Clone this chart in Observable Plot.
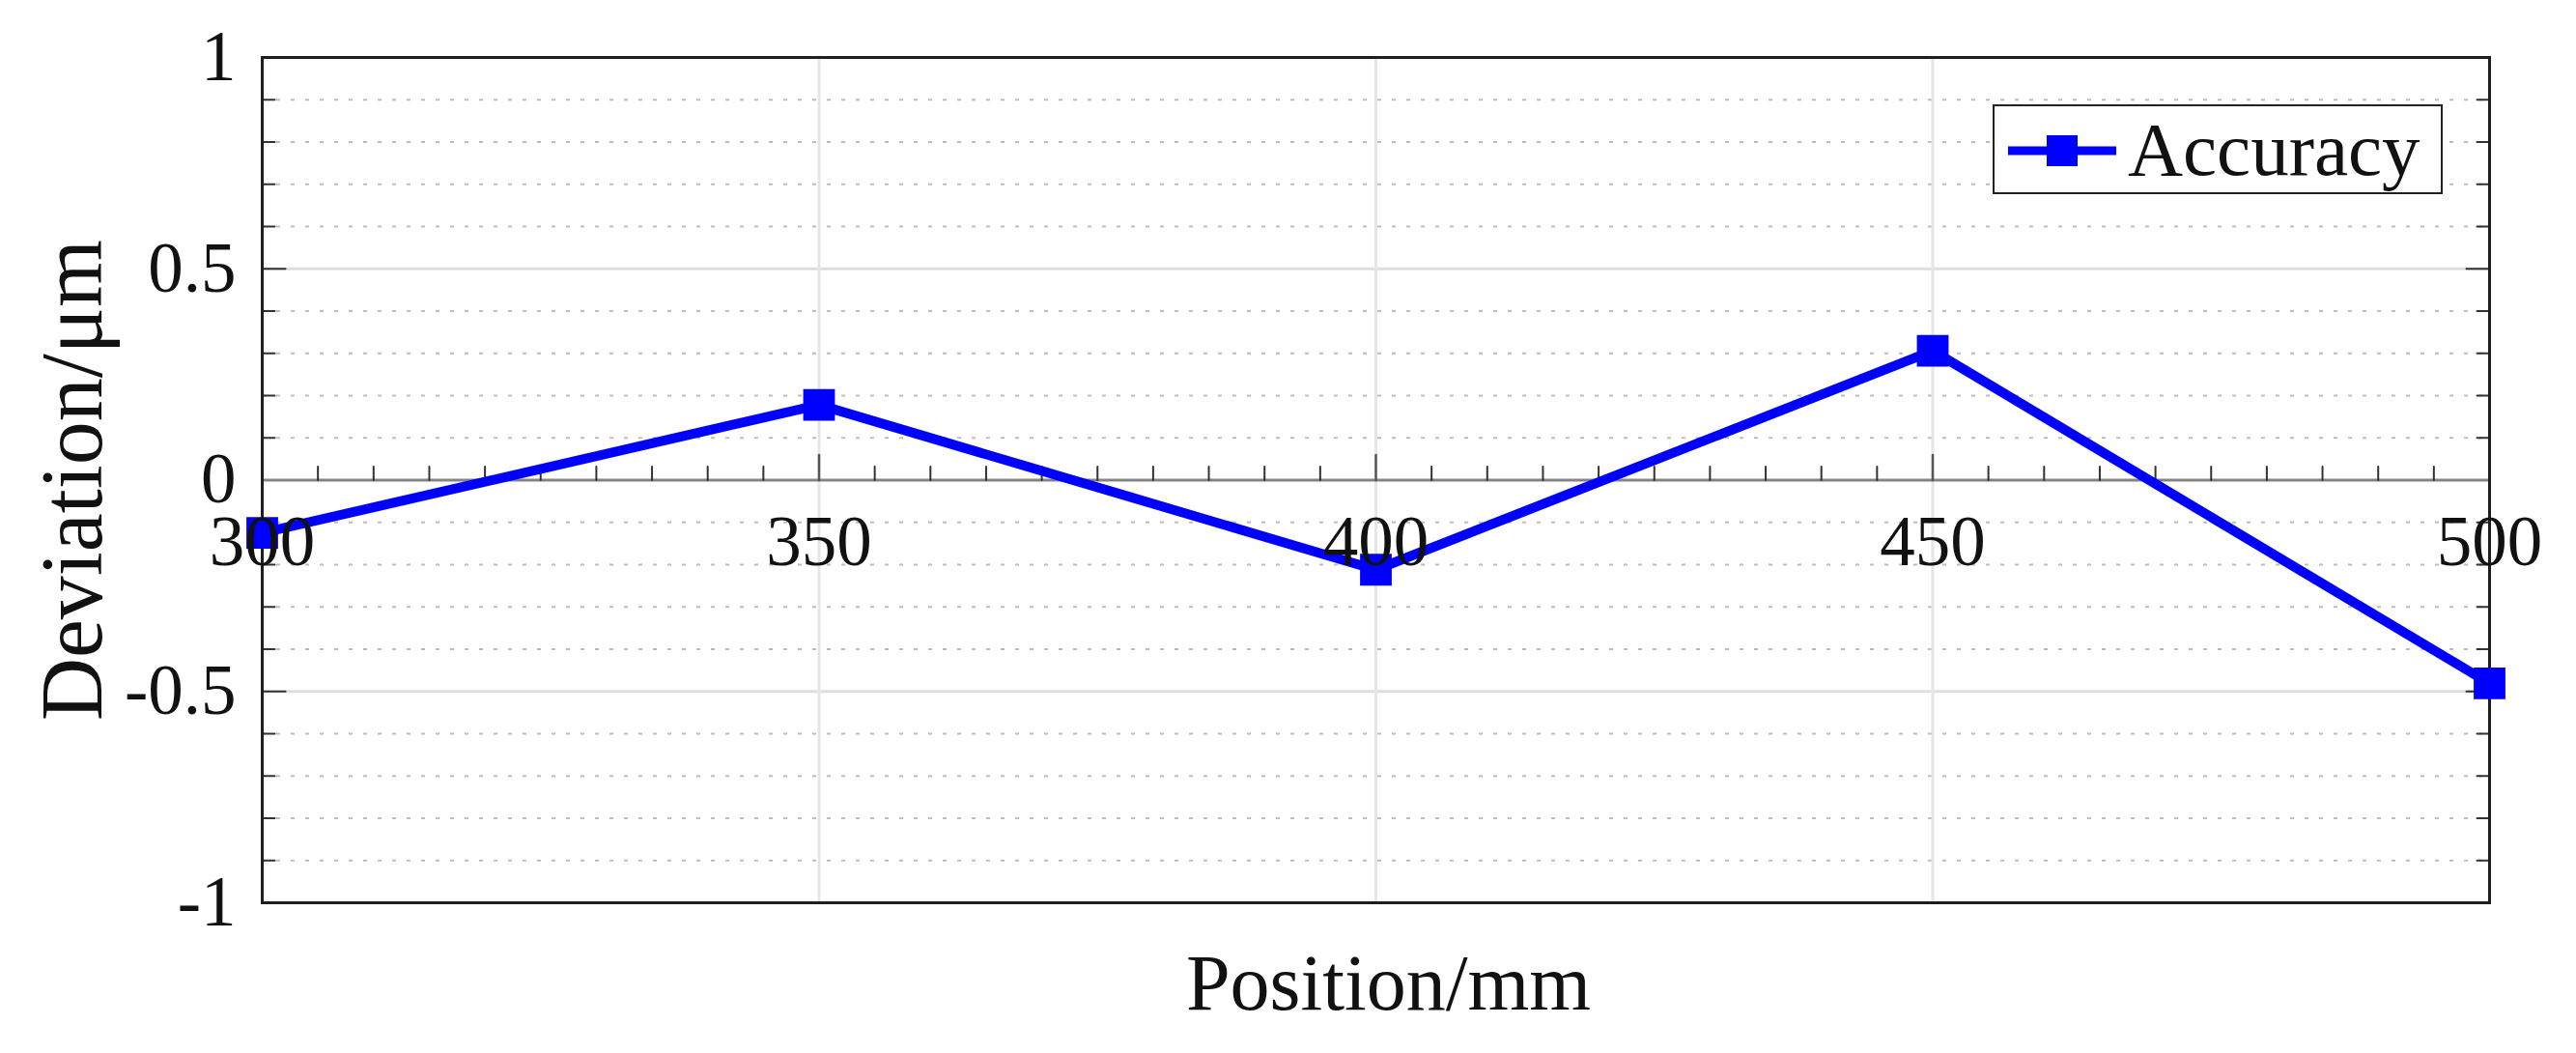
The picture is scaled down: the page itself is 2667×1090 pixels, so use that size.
<!DOCTYPE html>
<html><head><meta charset="utf-8">
<script src="https://cdn.jsdelivr.net/npm/d3@7"></script>
<script src="https://cdn.jsdelivr.net/npm/@observablehq/plot@0.6"></script>
<style>
body{margin:0;background:#fff;}
#wrap{position:relative;width:2667px;height:1090px;}
#legend{position:absolute;left:2063px;top:108px;width:466px;height:93px;box-sizing:border-box;border:2.5px solid #222;background:#fff;font-family:"Liberation Serif",serif;font-size:79px;color:#111;}
#legend svg{position:absolute;left:12px;top:0;}
#legend span{position:absolute;left:138px;top:-2px;line-height:93px;white-space:nowrap;}
</style></head><body><div id="wrap"></div>
<script>
// ---- data ----
const positions = [300, 350, 400, 450, 500];
const deviations = [-0.125, 0.178, -0.212, 0.306, -0.481];
const seriesName = "Accuracy";
const xDomain = [300, 500];
const yDomain = [-1, 1];
const xMajorTicks = [300, 350, 400, 450, 500];
const xTickLabels = ["300", "350", "400", "450", "500"];
const xGridTicks = [350, 400, 450];
const xMinorTicks = d3.range(305, 500, 5).filter(v => v % 50 !== 0);
const yMajorTicks = [-1, -0.5, 0, 0.5, 1];
const yTickLabels = ["-1", "-0.5", "0", "0.5", "1"];
const yMidTicks = [-0.5, 0.5];
const yMinorTicks = [-0.9, -0.8, -0.7, -0.6, -0.4, -0.3, -0.2, -0.1, 0.1, 0.2, 0.3, 0.4, 0.6, 0.7, 0.8, 0.9];
const xLabel = "Position/mm";
const yLabel = "Deviation/μm";

const data = positions.map((x, i) => ({x, y: deviations[i]}));

const upTick = {draw(ctx, l) { ctx.moveTo(0, 0); ctx.lineTo(0, -l); }};
const rightTick = {draw(ctx, l) { ctx.moveTo(0, 0); ctx.lineTo(l, 0); }};
const leftTick = {draw(ctx, l) { ctx.moveTo(0, 0); ctx.lineTo(-l, 0); }};
const tickColor = "#333";

const chart = Plot.plot({
  width: 2667, height: 1090,
  marginLeft: 271, marginRight: 90, marginTop: 59, marginBottom: 156,
  x: {domain: xDomain, axis: null},
  y: {domain: yDomain, axis: null},
  style: {fontFamily: "'Liberation Serif', serif", background: "white", color: "#111"},
  marks: [
    Plot.gridY(yMinorTicks, {stroke: "#bdbdbd", strokeOpacity: 1, strokeWidth: 2, strokeDasharray: "4,11"}),
    Plot.gridY(yMidTicks, {stroke: "#dedede", strokeOpacity: 1, strokeWidth: 3}),
    Plot.gridX(xGridTicks, {stroke: "#e6e6e6", strokeOpacity: 1, strokeWidth: 3}),
    Plot.ruleY([0], {stroke: "#858585", strokeWidth: 3}),
    // x ticks along y=0
    Plot.vector(xMinorTicks, {x: d => d, y: () => 0, length: 14, rotate: 0, anchor: "start", shape: upTick, stroke: tickColor, strokeWidth: 2}),
    Plot.vector(xGridTicks, {x: d => d, y: () => 0, length: 26, rotate: 0, anchor: "start", shape: upTick, stroke: "#555", strokeWidth: 2.5}),
    // y ticks, left and right, pointing inward
    Plot.vector(yMinorTicks, {y: d => d, frameAnchor: "left", length: 13, rotate: 0, anchor: "start", shape: rightTick, stroke: tickColor, strokeWidth: 2}),
    Plot.vector(yMidTicks, {y: d => d, frameAnchor: "left", length: 24, rotate: 0, anchor: "start", shape: rightTick, stroke: tickColor, strokeWidth: 2}),
    Plot.vector(yMinorTicks, {y: d => d, frameAnchor: "right", length: 13, rotate: 0, anchor: "start", shape: leftTick, stroke: tickColor, strokeWidth: 2}),
    Plot.vector(yMidTicks, {y: d => d, frameAnchor: "right", length: 24, rotate: 0, anchor: "start", shape: leftTick, stroke: tickColor, strokeWidth: 2}),
    Plot.frame({stroke: "#1e1e1e", strokeWidth: 3}),
    // tick labels
    Plot.text(yMajorTicks, {y: d => d, frameAnchor: "left", dx: -27, textAnchor: "end", text: (d, i) => yTickLabels[i], fontSize: 73, fill: "#111"}),
    // data
    Plot.line(data, {x: "x", y: "y", stroke: "#0000ff", strokeWidth: 10}),
    Plot.dot(data, {x: "x", y: "y", symbol: "square", r: 18.5, fill: "#0000ff", stroke: null}),
    Plot.text(xMajorTicks, {x: d => d, y: () => 0, dy: 65, text: (d, i) => xTickLabels[i], fontSize: 73, fill: "#111"}),
    // axis titles
    Plot.text([yLabel], {frameAnchor: "left", textAnchor: "middle", rotate: -90, dx: -195, fontSize: 90, fill: "#111"}),
    Plot.text([xLabel], {frameAnchor: "bottom", textAnchor: "middle", dx: 13, dy: 110, fontSize: 82, fill: "#111"})
  ]
});
const wrap = document.getElementById("wrap");
wrap.appendChild(chart);

const legend = document.createElement("div");
legend.id = "legend";
legend.innerHTML = `<svg width="120" height="93"><line x1="2" x2="114" y1="46" y2="46" stroke="#0000ff" stroke-width="9"/><rect x="42" y="30" width="32" height="32" fill="#0000ff"/></svg><span>${seriesName}</span>`;
wrap.appendChild(legend);
</script>
</body></html>
